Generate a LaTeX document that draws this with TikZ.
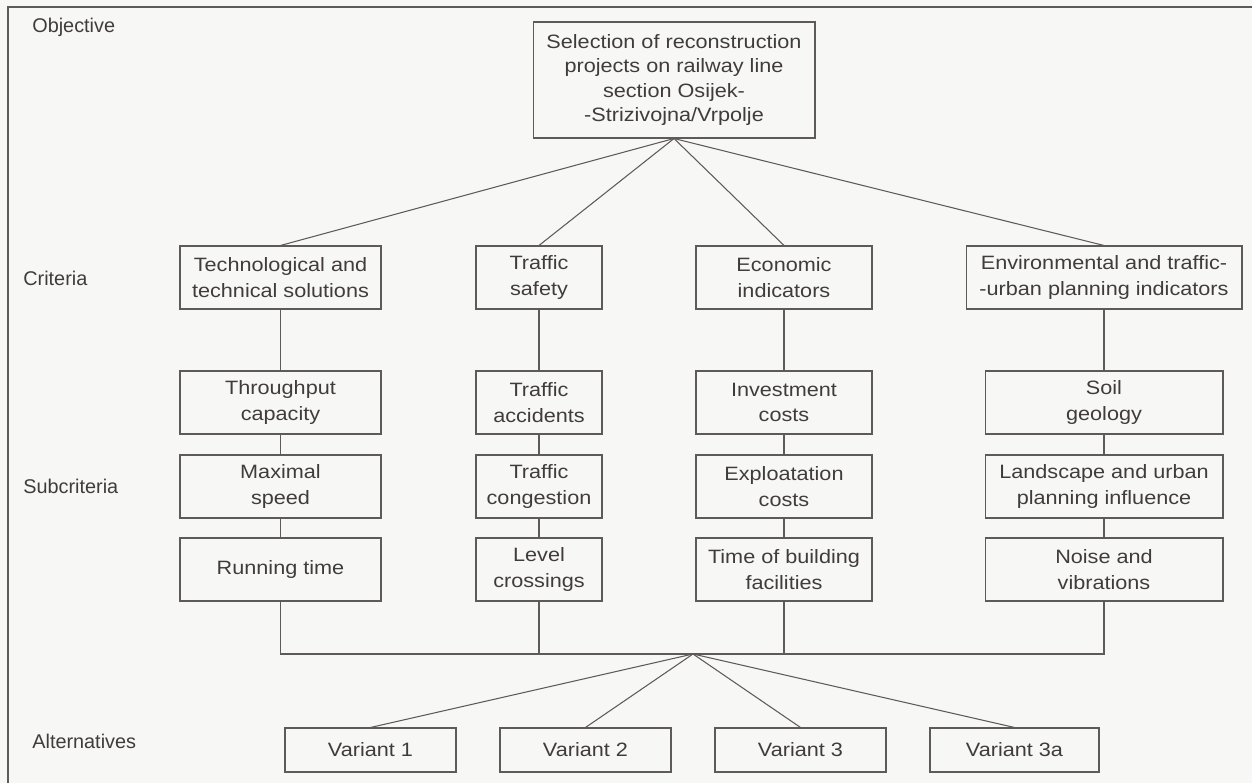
\documentclass[tikz,border=0pt]{standalone}
\usepackage{fontspec}
\setmainfont{Liberation Sans}
\newfontfamily\boxfont[FakeStretch=1.12]{Liberation Sans}
\usetikzlibrary{positioning, calc}
\definecolor{linegray}{RGB}{95, 90, 90}
\definecolor{textgray}{RGB}{65, 60, 60}
\definecolor{paper}{RGB}{247, 247, 246}
\tikzstyle{block} = [rectangle, draw=linegray, line width=0.6pt, inner sep=0pt, minimum height=1.26cm, align=center, text=textgray, font=\boxfont\fontsize{11}{14.4}\selectfont]
\tikzstyle{variant} = [block, minimum height=0.88cm, minimum width=3.42cm]
\tikzstyle{layerlabel} = [anchor=base west, inner sep=0pt, text=textgray, font=\fontsize{11.3}{13}\selectfont]
\tikzstyle{link} = [draw=linegray, line width=0.6pt]

\begin{document}
\begin{tikzpicture}[x=0.02cm, y=-0.02cm]

\useasboundingbox[fill=paper] (0,0) rectangle (1252,783);
\draw[link] (1252,7) -- (8,7) -- (8,783);

% Layer labels
\node (lblobj) [layerlabel] at (32,33) {Objective};
\node (lblcrit) [layerlabel] at (23,286) {Criteria};
\node (lblsub) [layerlabel] at (23,494) {Subcriteria};
\node (lblalt) [layerlabel] at (32,749) {Alternatives};

% Objective
\node (goal) [block, minimum width=5.64cm, minimum height=2.32cm, font=\boxfont\fontsize{11}{13.8}\selectfont] at (674,80) {Selection of reconstruction\\projects on railway line\\section Osijek-\\-Strizivojna/Vrpolje};

% Criteria
\node (tech) [block, minimum width=4.02cm] at (280.5,277.5) {Technological and\\technical solutions};
\node (safety) [block, minimum width=2.52cm] at (539,277.5) {Traffic\\safety};
\node (econ) [block, minimum width=3.52cm] at (784,277.5) {Economic\\indicators};
\node (env) [block, minimum width=5.52cm] at (1104,277.5) {Environmental and traffic-\\-urban planning indicators};

% Subcriteria
\node (thru) [block, minimum width=4.02cm] at (280.5,402.5) {Throughput\\capacity};
\node (speed) [block, minimum width=4.02cm] at (280.5,486.5) {Maximal\\speed};
\node (run) [block, minimum width=4.02cm] at (280.5,569.5) {Running time};

\node (acc) [block, minimum width=2.52cm] at (539,402.5) {Traffic\\accidents};
\node (cong) [block, minimum width=2.52cm] at (539,486.5) {Traffic\\congestion};
\node (cross) [block, minimum width=2.52cm] at (539,569.5) {Level\\crossings};

\node (invest) [block, minimum width=3.52cm] at (784,402.5) {Investment\\costs};
\node (exploit) [block, minimum width=3.52cm] at (784,486.5) {Exploatation\\costs};
\node (build) [block, minimum width=3.52cm] at (784,569.5) {Time of building\\facilities};

\node (soil) [block, minimum width=4.76cm] at (1104,402.5) {Soil\\geology};
\node (land) [block, minimum width=4.76cm] at (1104,486.5) {Landscape and urban\\planning influence};
\node (noise) [block, minimum width=4.76cm] at (1104,569.5) {Noise and\\vibrations};

% Alternatives
\node (var1) [variant] at (370.5,750) {Variant 1};
\node (var2) [variant] at (585.5,750) {Variant 2};
\node (var3) [variant] at (800.5,750) {Variant 3};
\node (var3a) [variant, minimum width=3.38cm] at (1014.5,750) {Variant 3a};

\coordinate (join) at (693,654);

% Links
\draw [link] (goal.south) -- (tech.north);
\draw [link] (goal.south) -- (safety.north);
\draw [link] (goal.south) -- (econ.north);
\draw [link] (goal.south) -- (env.north);

\draw [link] (tech) -- (thru) -- (speed) -- (run);
\draw [link] (safety) -- (acc) -- (cong) -- (cross);
\draw [link] (econ) -- (invest) -- (exploit) -- (build);
\draw [link] (env) -- (soil) -- (land) -- (noise);

\draw [link] (run.south) -- (run.south |- join) -- (noise.south |- join) -- (noise.south);
\draw [link] (cross.south) -- (cross.south |- join);
\draw [link] (build.south) -- (build.south |- join);

\draw [link] (join) -- (var1.north);
\draw [link] (join) -- (var2.north);
\draw [link] (join) -- (var3.north);
\draw [link] (join) -- (var3a.north);

\end{tikzpicture}
\end{document}
